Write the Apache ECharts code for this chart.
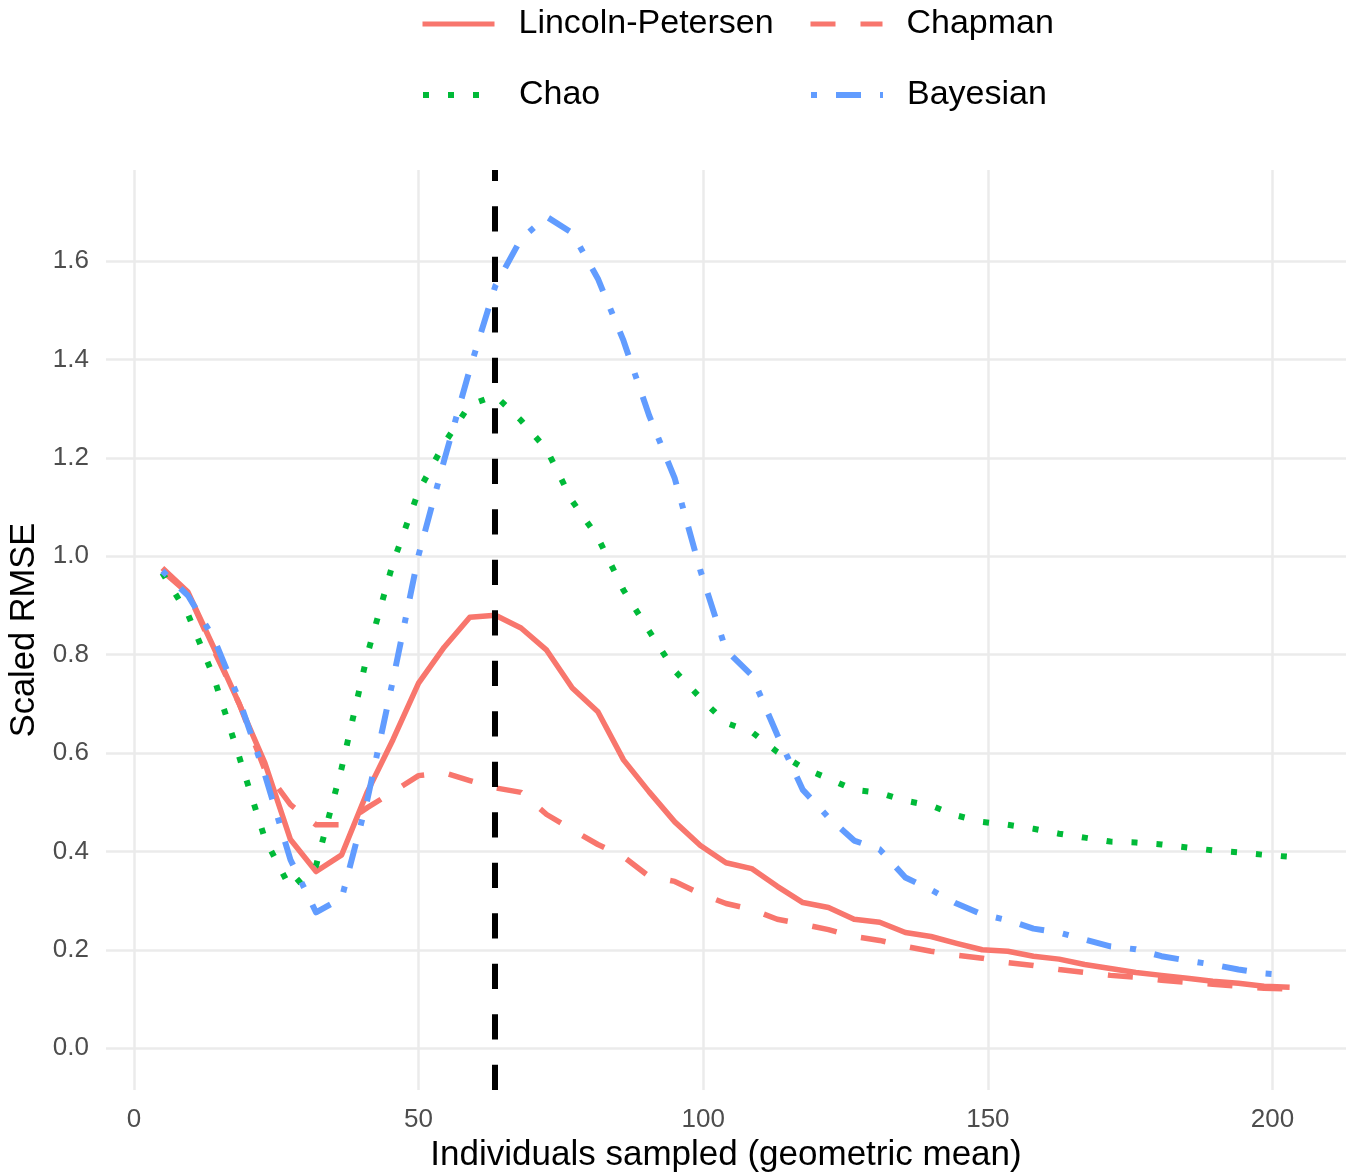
<!DOCTYPE html>
<html>
<head>
<meta charset="utf-8">
<title>Scaled RMSE</title>
<script src="https://cdn.jsdelivr.net/npm/echarts@6/dist/echarts.min.js"></script>
<style>
  html, body { margin: 0; padding: 0; background: #fff; }
  #chart { width: 1351px; height: 1175px; }
</style>
</head>
<body>
<div id="chart"></div>
<script>
// individuals sampled (geometric mean), one per simulation step
const sampled = [5, 9.5, 14, 18.5, 23, 27.5, 32, 36.5, 41, 45.5, 50, 54.5, 59, 63.5, 68,
  72.5, 77, 81.5, 86, 90.5, 95, 99.5, 104, 108.5, 113, 117.5, 122, 126.5, 131, 135.5,
  140, 144.5, 149, 153.5, 158, 162.5, 167, 171.5, 176, 180.5, 185, 189.5, 194, 198.5, 203];

const lincolnPetersen = [0.976, 0.927, 0.815, 0.70, 0.58, 0.424, 0.359, 0.393, 0.521, 0.627,
  0.742, 0.815, 0.876, 0.880, 0.854, 0.809, 0.732, 0.684, 0.586, 0.521,
  0.46, 0.412, 0.377, 0.365, 0.329, 0.296, 0.286, 0.262, 0.256, 0.235,
  0.227, 0.213, 0.200, 0.197, 0.187, 0.181, 0.170, 0.162, 0.154, 0.148,
  0.142, 0.136, 0.132, 0.126, 0.124];

const chapman = [0.97, 0.925, 0.81, 0.70, 0.566, 0.495, 0.454, 0.454, 0.489, 0.521,
  0.554, 0.560, 0.544, 0.529, 0.520, 0.475, 0.444, 0.414, 0.389, 0.349,
  0.339, 0.314, 0.294, 0.282, 0.262, 0.252, 0.241, 0.227, 0.219, 0.207,
  0.197, 0.189, 0.183, 0.174, 0.168, 0.160, 0.154, 0.148, 0.144, 0.138,
  0.134, 0.130, 0.126, 0.122, 0.120];

const chao = [0.966, 0.882, 0.755, 0.592, 0.426, 0.325, 0.371, 0.570, 0.80, 0.986,
  1.132, 1.229, 1.308, 1.326, 1.276, 1.217, 1.112, 1.038, 0.931, 0.848,
  0.767, 0.712, 0.661, 0.643, 0.602, 0.570, 0.548, 0.525, 0.519, 0.503,
  0.493, 0.473, 0.460, 0.454, 0.446, 0.436, 0.428, 0.42, 0.418, 0.414,
  0.408, 0.402, 0.398, 0.393, 0.389];

const bayesian = [0.97, 0.92, 0.834, 0.708, 0.556, 0.383, 0.276, 0.305, 0.505, 0.748,
  1.002, 1.195, 1.38, 1.55, 1.645, 1.69, 1.657, 1.564, 1.438, 1.286,
  1.158, 0.971, 0.809, 0.758, 0.637, 0.525, 0.469, 0.422, 0.404, 0.347,
  0.322, 0.294, 0.272, 0.26, 0.243, 0.235, 0.221, 0.207, 0.201, 0.187,
  0.178, 0.170, 0.160, 0.152, 0.148];

const xTicks = [0, 50, 100, 150, 200];
const yTicks = [0, 0.2, 0.4, 0.6, 0.8, 1.0, 1.2, 1.4, 1.6];
const cutoffX = 63.4;

const FONT = "'Liberation Sans', Arial, sans-serif";
const RED = "#F8766D", GREEN = "#00BA38", BLUE = "#619CFF";

function pairs(ys) {
  return sampled.map((x, i) => [x, ys[i]]);
}

function lineSeries(name, ys, color, width, type) {
  return {
    name: name,
    type: "line",
    data: pairs(ys),
    symbol: "none",
    smooth: false,
    lineStyle: { color: color, width: width, type: type, cap: "butt", join: "round" },
    itemStyle: { color: color },
    emphasis: { disabled: true },
  };
}

// one legend per key so the two columns line up like the ggplot guide
function legendAt(name, left, top, width) {
  return {
    data: [name],
    left: left,
    top: top,
    orient: "horizontal",
    padding: 0,
    itemWidth: 72,
    itemHeight: 14,
    selectedMode: false,
    lineStyle: { width: width },
    itemStyle: { color: "rgba(0,0,0,0)", borderWidth: 0, opacity: 0 },
    textStyle: {
      fontFamily: FONT,
      fontSize: 34,
      color: "#000",
      lineHeight: 40,
      padding: [0, 0, 0, 19],
    },
  };
}

const chart = echarts.init(document.getElementById("chart"), null, { renderer: "canvas" });

const option = {
  animation: false,
  backgroundColor: "#fff",
  textStyle: { fontFamily: FONT },
  legend: [
    legendAt("Lincoln-Petersen", 420, 4, 5),
    legendAt("Chapman", 808, 4, 5),
    legendAt("Chao", 420, 75, 6),
    legendAt("Bayesian", 808, 75, 6),
  ],
  // keep the panel fixed; v6 would otherwise shrink it to fit the axis names
  grid: { left: 106, right: 5, top: 170, bottom: 85, containLabel: false, outerBoundsMode: "none" },
  xAxis: {
    type: "value",
    min: -4.9,
    max: 212.9,
    name: "Individuals sampled (geometric mean)",
    nameLocation: "middle",
    nameGap: 48,
    nameTextStyle: { fontFamily: FONT, fontSize: 35, color: "#000" },
    axisLine: { show: false },
    axisTick: { show: false, customValues: xTicks },
    axisLabel: {
      customValues: xTicks,
      fontFamily: FONT,
      fontSize: 26,
      color: "#4D4D4D",
      margin: 17,
    },
    splitLine: { show: true, lineStyle: { color: "#EBEBEB", width: 2.5 } },
  },
  yAxis: {
    type: "value",
    min: -0.085,
    max: 1.785,
    name: "Scaled RMSE",
    nameLocation: "middle",
    nameGap: 64,
    nameRotate: 90,
    nameTextStyle: { fontFamily: FONT, fontSize: 34.5, color: "#000" },
    axisLine: { show: false },
    axisTick: { show: false, customValues: yTicks },
    axisLabel: {
      customValues: yTicks,
      fontFamily: FONT,
      fontSize: 26,
      color: "#4D4D4D",
      margin: 17,
      formatter: (v) => v.toFixed(1),
    },
    splitLine: { show: true, lineStyle: { color: "#EBEBEB", width: 2.5 } },
  },
  series: [
    lineSeries("Lincoln-Petersen", lincolnPetersen, RED, 5.5, "solid"),
    lineSeries("Chapman", chapman, RED, 5.5, [25, 25]),
    lineSeries("Chao", chao, GREEN, 6, [6, 19]),
    lineSeries("Bayesian", bayesian, BLUE, 6, [6, 19, 25, 19]),
    {
      name: "cutoff",
      type: "line",
      data: [],
      silent: true,
      z: 10,
      markLine: {
        silent: true,
        symbol: "none",
        label: { show: false },
        lineStyle: { color: "#000", width: 6, type: [25.25, 25.25], cap: "butt" },
        emphasis: { disabled: true },
        data: [{ xAxis: cutoffX }],
      },
    },
  ],
};

chart.setOption(option);
</script>
</body>
</html>
